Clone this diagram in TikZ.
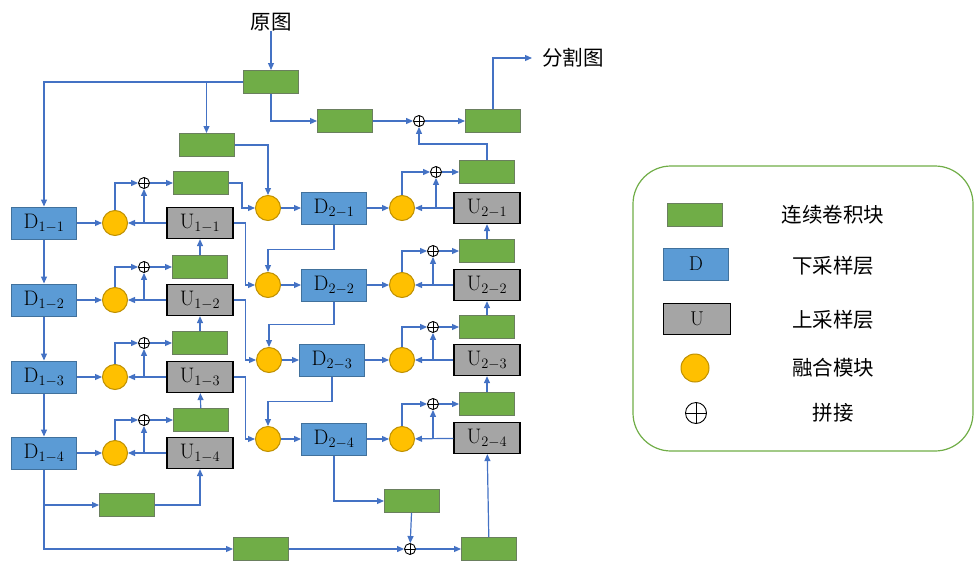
\documentclass[tikz,border=0pt]{standalone}
\usepackage{fontspec}
\usepackage{tikz}
\usetikzlibrary{arrows.meta}
\newfontfamily\cjk{Noto Sans CJK SC}
\definecolor{lineblue}{HTML}{4472C4}
\definecolor{boxblue}{HTML}{5B9BD5}
\definecolor{edgeblue}{HTML}{41719C}
\definecolor{boxgreen}{HTML}{70AD47}
\definecolor{edgegreen}{HTML}{6A7F5E}
\definecolor{boxgray}{HTML}{A5A5A5}
\definecolor{fuseyellow}{HTML}{FFC000}
\definecolor{edgeyellow}{HTML}{BF9000}
\tikzset{
  conv/.style = {draw=edgegreen, line width=1pt, fill=boxgreen, minimum width=55pt, minimum height=23pt, inner sep=0pt},
  down/.style = {draw=edgeblue, line width=1pt, fill=boxblue, minimum width=65pt, minimum height=32pt, inner sep=0pt, font=\fontsize{21}{23}\selectfont},
  up/.style = {draw=black, line width=1.3pt, fill=boxgray, minimum width=66pt, minimum height=31pt, inner sep=0pt, font=\fontsize{21}{23}\selectfont},
  fuse/.style = {draw=edgeyellow, line width=1pt, fill=fuseyellow, circle, minimum size=25pt, inner sep=0pt},
  cat/.style = {draw, circle, line width=0.9pt, minimum size=11pt, inner sep=0pt,
    path picture={\draw[line width=0.9pt] (path picture bounding box.north) -- (path picture bounding box.south)
      (path picture bounding box.west) -- (path picture bounding box.east);}},
  arr/.style = {draw=lineblue, line width=1.2pt, -{Triangle[length=7pt,width=6pt]}},
  txt/.style = {font=\cjk\fontsize{20.5}{24}\selectfont, inner sep=0pt}
}
\begin{document}
\begin{tikzpicture}[x=1pt, y=-1pt]
\useasboundingbox (0,0) rectangle (974,562);
% top
\node[txt] (in) at (271,22) {原图};
\node[conv] (g0) at (271,82) {};
\node[conv] (g1) at (206.5,145) {};
\node[conv] (g2) at (345,121) {};
\node[cat] (p0) at (419,121) {};
\node[conv] (g3) at (493,121) {};
\coordinate (out) at (532,58);
\node[txt, anchor=west] (seg) at (542,58) {分割图};
% encoder 1
\node[down] (d11) at (44,223) {$\mathrm{D}_{1-1}$};
\node[down] (d12) at (44,300) {$\mathrm{D}_{1-2}$};
\node[down] (d13) at (44,377) {$\mathrm{D}_{1-3}$};
\node[down] (d14) at (44,453) {$\mathrm{D}_{1-4}$};
\node[fuse] (f11) at (115,223) {};
\node[fuse] (f12) at (115,300) {};
\node[fuse] (f13) at (115,377) {};
\node[fuse] (f14) at (115,453) {};
\node[up] (u11) at (200,223) {$\mathrm{U}_{1-1}$};
\node[up] (u12) at (200,300) {$\mathrm{U}_{1-2}$};
\node[up] (u13) at (200,377) {$\mathrm{U}_{1-3}$};
\node[up] (u14) at (200,453) {$\mathrm{U}_{1-4}$};
\node[cat] (p11) at (144,183) {};
\node[cat] (p12) at (144,267) {};
\node[cat] (p13) at (144,343) {};
\node[cat] (p14) at (144,420) {};
\node[conv] (g11) at (201,183) {};
\node[conv] (g12) at (200,267) {};
\node[conv] (g13) at (200,343) {};
\node[conv] (g14) at (201,420) {};
% encoder 2
\node[fuse] (f21) at (268,208) {};
\node[fuse] (f22) at (268,285) {};
\node[fuse] (f23) at (269,360) {};
\node[fuse] (f24) at (268,439) {};
\node[down] (d21) at (334,208) {$\mathrm{D}_{2-1}$};
\node[down] (d22) at (334,285) {$\mathrm{D}_{2-2}$};
\node[down] (d23) at (332,360) {$\mathrm{D}_{2-3}$};
\node[down] (d24) at (334,439) {$\mathrm{D}_{2-4}$};
\node[fuse] (h21) at (402,208) {};
\node[fuse] (h22) at (402,285) {};
\node[fuse] (h23) at (402,360) {};
\node[fuse] (h24) at (402,439) {};
\node[up] (u21) at (487,208) {$\mathrm{U}_{2-1}$};
\node[up] (u22) at (487,285) {$\mathrm{U}_{2-2}$};
\node[up] (u23) at (487,360) {$\mathrm{U}_{2-3}$};
\node[up] (u24) at (487,438) {$\mathrm{U}_{2-4}$};
\node[cat] (p21) at (436,172) {};
\node[cat] (p22) at (433,251) {};
\node[cat] (p23) at (433,327) {};
\node[cat] (p24) at (433,404) {};
\node[conv] (g21) at (487,172) {};
\node[conv] (g22) at (487,251) {};
\node[conv] (g23) at (487,327) {};
\node[conv] (g24) at (487,404) {};
% bottom
\node[conv] (b1) at (127,505) {};
\node[conv] (b2) at (261,549) {};
\node[conv] (b4) at (412,501) {};
\node[cat] (p3) at (410,549) {};
\node[conv] (b3) at (489,549) {};
% top links
\draw[arr] (in) -- (g0.north);
\draw[arr] (g0.west) -| (d11.north);
\draw[arr] (g0.west -| g1.north) -- (g1.north);
\draw[arr] (g1.east) -| (f21.north);
\draw[arr] (g0.south) |- (g2.west);
\draw[arr] (g2) -- (p0);
\draw[arr] (p0) -- (g3);
\draw[arr] (g3.north) |- (out);
\draw[arr] (g21.north) -- ++(0,-16) -| (p0.south);
% encoder 1 links
\draw[arr] (d11) -- (d12);
\draw[arr] (d12) -- (d13);
\draw[arr] (d13) -- (d14);
\draw[arr] (d11) -- (f11);
\draw[arr] (d12) -- (f12);
\draw[arr] (d13) -- (f13);
\draw[arr] (d14) -- (f14);
\draw[arr] (u11) -- (f11);
\draw[arr] (u12) -- (f12);
\draw[arr] (u13) -- (f13);
\draw[arr] (u14) -- (f14);
\draw[arr] (u11.west -| p11) -- (p11);
\draw[arr] (u12.west -| p12) -- (p12);
\draw[arr] (u13.west -| p13) -- (p13);
\draw[arr] (u14.west -| p14) -- (p14);
\draw[arr] (f11.north) |- (p11.west);
\draw[arr] (f12.north) |- (p12.west);
\draw[arr] (f13.north) |- (p13.west);
\draw[arr] (f14.north) |- (p14.west);
\draw[arr] (p11) -- (g11);
\draw[arr] (p12) -- (g12);
\draw[arr] (p13) -- (g13);
\draw[arr] (p14) -- (g14);
\draw[arr] (g12) -- (u11);
\draw[arr] (g13) -- (u12);
\draw[arr] (g14) -- (u13);
\draw[arr] (g11.east) -- ++(13,0) |- (f21.west);
\draw[arr] (u11.east) -- ++(12,0) |- (f22.west);
\draw[arr] (u12.east) -- ++(12,0) |- (f23.west);
\draw[arr] (u13.east) -- ++(12,0) |- (f24.west);
% encoder 2 links
\draw[arr] (f21) -- (d21);
\draw[arr] (f22) -- (d22);
\draw[arr] (f23) -- (d23);
\draw[arr] (f24) -- (d24);
\draw[arr] (d21) -- (h21);
\draw[arr] (d22) -- (h22);
\draw[arr] (d23) -- (h23);
\draw[arr] (d24) -- (h24);
\draw[arr] (u21) -- (h21);
\draw[arr] (u22) -- (h22);
\draw[arr] (u23) -- (h23);
\draw[arr] (u24) -- (h24);
\draw[arr] (u21.west -| p21) -- (p21);
\draw[arr] (u22.west -| p22) -- (p22);
\draw[arr] (u23.west -| p23) -- (p23);
\draw[arr] (u24.west -| p24) -- (p24);
\draw[arr] (h21.north) |- (p21.west);
\draw[arr] (h22.north) |- (p22.west);
\draw[arr] (h23.north) |- (p23.west);
\draw[arr] (h24.north) |- (p24.west);
\draw[arr] (p21) -- (g21);
\draw[arr] (p22) -- (g22);
\draw[arr] (p23) -- (g23);
\draw[arr] (p24) -- (g24);
\draw[arr] (g22) -- (u21);
\draw[arr] (g23) -- (u22);
\draw[arr] (g24) -- (u23);
\draw[arr] (d21.south) -- ++(0,25) -| (f22.north);
\draw[arr] (d22.south) -- ++(0,23) -| (f23.north);
\draw[arr] (d23.south) -- ++(0,25) -| (f24.north);
% bottom links
\draw[arr] (d14.south) |- (b2.west);
\draw[arr] (d14.south |- b1.west) -- (b1.west);
\draw[arr] (b1.east) -| (u14.south);
\draw[arr] (b2) -- (p3);
\draw[arr] (d24.south) |- (b4.west);
\draw[arr] (b4) -- (p3);
\draw[arr] (p3) -- (b3);
\draw[arr] (b3) -- (u24);
% legend
\node[draw=boxgreen, line width=1.2pt, rounded corners=38pt, minimum width=340pt, minimum height=285pt] (legend) at (803,308.5) {};
\node[conv] (lg) at (695,215) {};
\node[down, font=\fontsize{20}{22}\selectfont] (ld) at (696,264) {D};
\node[up, font=\fontsize{20}{22}\selectfont, minimum width=67pt] (lu) at (697,319) {U};
\node[fuse, minimum size=28pt] (lf) at (695,368) {};
\node[cat, minimum size=21pt] (lc) at (696,413) {};
\node[txt] (tg) at (833,215) {连续卷积块};
\node[txt] (td) at (833,266) {下采样层};
\node[txt] (tu) at (833,320) {上采样层};
\node[txt] (tf) at (833,368) {融合模块};
\node[txt] (tc) at (833,413) {拼接};
\end{tikzpicture}
\end{document}
